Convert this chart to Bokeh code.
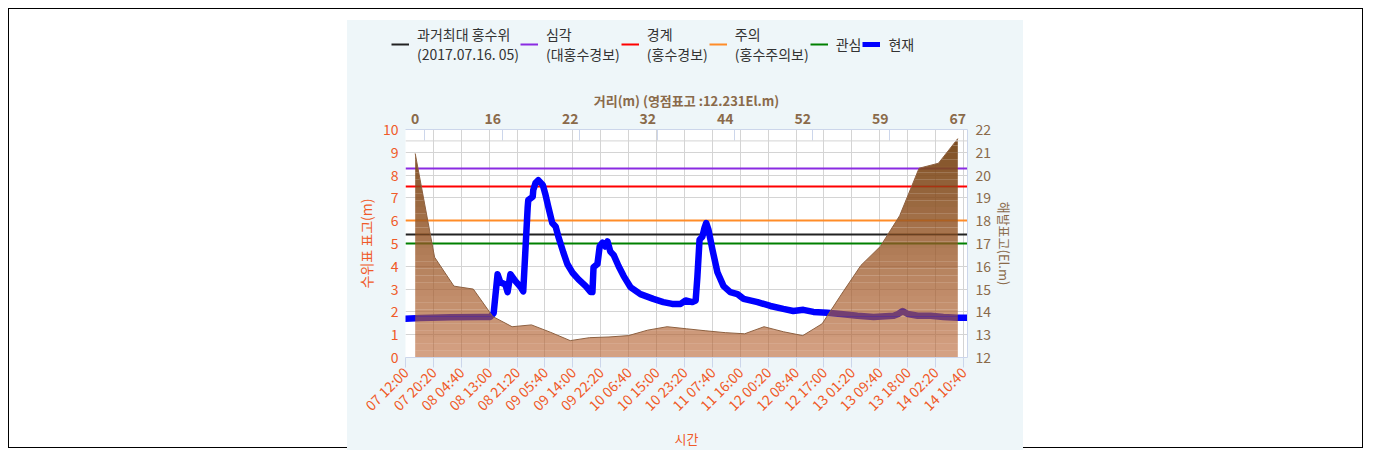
import math
import numpy as np
import pandas as pd
from bokeh.plotting import figure
from bokeh.models import (Range1d, LinearAxis, FixedTicker, DatetimeTickFormatter,
                          Legend, LegendItem, Span, Spacer)
from bokeh.layouts import row, column
from bokeh.embed import file_html
from bokeh.resources import INLINE

# ---------------- data ----------------
YEAR_MONTH = "2023-07-"

# water level (현재), left axis, metres
level_times = [
    "07 12:00", "07 16:30", "08 01:30", "08 10:20", "08 13:20", "08 14:20", "08 15:30",
    "08 16:20", "08 17:50", "08 18:30", "08 19:20", "08 20:50", "08 22:20", "08 23:10",
    "09 00:30", "09 00:40", "09 02:00", "09 02:10", "09 02:50", "09 03:40", "09 05:00",
    "09 05:50", "09 06:40", "09 07:50", "09 08:50", "09 09:40", "09 11:10", "09 12:20",
    "09 13:50", "09 15:40", "09 17:50", "09 19:20", "09 19:50", "09 20:10", "09 21:20",
    "09 22:00", "09 22:50", "09 23:40", "10 00:20", "10 01:10", "10 02:10", "10 03:40",
    "10 05:10", "10 07:10", "10 10:10", "10 14:00", "10 17:00", "10 19:40", "10 22:10",
    "10 23:40", "11 01:40", "11 02:40", "11 03:10", "11 03:50", "11 04:40", "11 05:20",
    "11 05:50", "11 06:30", "11 07:40", "11 09:10", "11 11:00", "11 13:00", "11 15:10",
    "11 17:00", "11 21:10", "12 01:00", "12 04:50", "12 07:50", "12 10:50", "12 13:50",
    "12 18:00", "12 22:00", "13 03:00", "13 07:50", "13 13:50", "13 15:10", "13 16:30",
    "13 18:00", "13 21:00", "14 00:50", "14 04:40", "14 08:50", "14 11:50",
]
level_values = [
    1.70, 1.73, 1.76, 1.78, 1.78, 1.95, 3.65,
    3.30, 3.20, 2.87, 3.65, 3.35, 3.10, 2.90,
    6.60, 6.90, 7.05, 7.35, 7.65, 7.78, 7.57,
    7.13, 6.60, 5.90, 5.75, 5.30, 4.60, 4.10,
    3.73, 3.43, 3.13, 2.87, 2.87, 3.96, 4.10,
    4.87, 5.04, 4.87, 5.09, 4.65, 4.50, 4.00,
    3.57, 3.09, 2.78, 2.57, 2.43, 2.35, 2.35,
    2.50, 2.43, 2.50, 3.50, 5.17, 5.30, 5.70,
    5.90, 5.60, 4.74, 3.74, 3.13, 2.87, 2.78,
    2.57, 2.43, 2.26, 2.13, 2.04, 2.09, 2.00,
    1.96, 1.91, 1.83, 1.78, 1.83, 1.91, 2.04,
    1.91, 1.83, 1.83, 1.78, 1.74, 1.74,
]

# time axis tick labels
time_tick_labels = [
    "07 12:00", "07 20:20", "08 04:40", "08 13:00", "08 21:20", "09 05:40", "09 14:00",
    "09 22:20", "10 06:40", "10 15:00", "10 23:20", "11 07:40", "11 16:00", "12 00:20",
    "12 08:40", "12 17:00", "13 01:20", "13 09:40", "13 18:00", "14 02:20", "14 10:40",
]
time_axis_end = "14 11:52"

# ground profile (해발표고, El.m) at evenly spaced survey points
profile_elev = [
    20.95, 16.40, 15.13, 15.00, 13.80, 13.35, 13.43, 13.10, 12.74, 12.87,
    12.90, 12.96, 13.20, 13.35, 13.26, 13.17, 13.09, 13.04, 13.35, 13.13,
    12.96, 13.48, 14.78, 16.04, 16.87, 18.22, 20.30, 20.52, 21.60,
]
dist_tick_labels = ["0", "16", "22", "32", "44", "52", "59", "67"]
dist_tick_every = 4

# threshold lines (left axis, m)
threshold_names = ["과거최대 홍수위\n(2017.07.16. 05)", "심각\n(대홍수경보)", "경계\n(홍수경보)",
                   "주의\n(홍수주의보)", "관심"]
threshold_values = [5.4, 8.3, 7.5, 6.0, 5.0]
threshold_colors = ["#222222", "#8a2be2", "#ff0000", "#ff8c28", "#008000"]
current_name = "현재"

# ---------------- styling ----------------
FONT = "Noto Sans CJK KR"
ORANGE = "#f05a28"
BROWN = "#8a6a4a"
PANEL = "#eef6f9"
AXIS_LINE = "#ccd6eb"
CUR_COLOR = "#0000ff"
CUR_WIDTH = 6.5
THR_WIDTH = 2

def ts(s):
    return pd.Timestamp(YEAR_MONTH + s)

t_level = pd.to_datetime([YEAR_MONTH + s for s in level_times])
tick_ms = [ts(s).value // 10**6 for s in time_tick_labels]

LEG_H = 66
p = figure(width=676, height=430 - LEG_H, x_axis_type="datetime",
           x_range=Range1d(ts(time_tick_labels[0]), ts(time_axis_end)),
           y_range=Range1d(0, 10),
           output_backend="svg", toolbar_location=None,
           min_border_left=58, min_border_right=56, min_border_top=109 - LEG_H,
           min_border_bottom=91,
           background_fill_color="white", border_fill_color=PANEL,
           outline_line_color=None)

n_pts = len(profile_elev)
p.extra_x_ranges = {"dist": Range1d(-0.5, n_pts - 0.5)}
p.extra_y_ranges = {"elev": Range1d(12, 22)}

# bottom (time) axis
xa = p.xaxis[0]
xa.ticker = FixedTicker(ticks=tick_ms)
fmt = "%d %H:%M"
xa.formatter = DatetimeTickFormatter(microseconds=fmt, milliseconds=fmt, seconds=fmt, minsec=fmt,
                                     minutes=fmt, hourmin=fmt, hours=fmt, days=fmt,
                                     months=fmt, years=fmt)
xa.major_label_orientation = math.pi / 4
xa.major_label_text_color = ORANGE
xa.major_label_text_font = FONT
xa.major_label_text_font_size = "14px"
xa.major_label_standoff = 2
xa.axis_line_color = AXIS_LINE
xa.major_tick_line_color = AXIS_LINE
xa.major_tick_out = 10
xa.major_tick_in = 0
xa.minor_tick_line_color = None
xa.axis_label = "시간"
xa.axis_label_text_color = ORANGE
xa.axis_label_text_font = FONT
xa.axis_label_text_font_size = "13px"
xa.axis_label_text_font_style = "normal"
xa.axis_label_standoff = 4

# left axis
ya = p.yaxis[0]
ya.ticker = FixedTicker(ticks=list(range(0, 11)))
ya.major_label_text_color = ORANGE
ya.major_label_text_font = FONT
ya.major_label_text_font_size = "14px"
ya.major_label_standoff = 1
ya.axis_line_color = None
ya.major_tick_line_color = None
ya.minor_tick_line_color = None
ya.axis_label = "수위표 표고(m)"
ya.axis_label_text_color = ORANGE
ya.axis_label_text_font = FONT
ya.axis_label_text_font_size = "14px"
ya.axis_label_text_font_style = "normal"
ya.axis_label_standoff = 4

# right axis
ra = LinearAxis(y_range_name="elev", ticker=FixedTicker(ticks=list(range(12, 23))))
ra.major_label_text_color = BROWN
ra.major_label_text_font = FONT
ra.major_label_text_font_size = "14px"
ra.major_label_standoff = 2
ra.axis_line_color = AXIS_LINE
ra.major_tick_line_color = None
ra.minor_tick_line_color = None
ra.axis_label = "해발표고(El.m)"
ra.axis_label_text_color = BROWN
ra.axis_label_text_font = FONT
ra.axis_label_text_font_size = "13px"
ra.axis_label_text_font_style = "normal"
ra.axis_label_standoff = 1
p.add_layout(ra, "right")

# top axis (distance)
dist_idx = list(range(0, n_pts, dist_tick_every))
dist_minor = [i + 0.5 for i in dist_idx[:-1]]
ta = LinearAxis(x_range_name="dist", ticker=FixedTicker(ticks=dist_idx, minor_ticks=dist_minor))
ta.major_label_overrides = {i: lab for i, lab in zip(dist_idx, dist_tick_labels)}
ta.major_label_text_color = BROWN
ta.major_label_text_font = FONT
ta.major_label_text_font_size = "14px"
ta.major_label_text_font_style = "bold"
ta.major_label_standoff = 0
ta.axis_line_color = AXIS_LINE
ta.major_tick_line_color = None
ta.minor_tick_line_color = AXIS_LINE
ta.minor_tick_in = 11
ta.minor_tick_out = 0
ta.axis_label = "거리(m) (영점표고 :12.231El.m)"
ta.axis_label_text_color = BROWN
ta.axis_label_text_font = FONT
ta.axis_label_text_font_size = "13px"
ta.axis_label_text_font_style = "bold"
ta.axis_label_standoff = 0
p.add_layout(ta, "above")

# grids
p.xgrid.grid_line_color = "#d4d4d4"
p.ygrid.grid_line_color = "#d4d4d4"
p.add_layout(Span(location=9.5, dimension="width", line_color="#d4d4d4", line_width=1))

# threshold lines
for v, c in zip(threshold_values, threshold_colors):
    p.hspan(y=[v], line_color=c, line_width=THR_WIDTH)

# current water level
p.line(t_level, level_values, line_color=CUR_COLOR, line_width=CUR_WIDTH,
       line_join="round", line_cap="round")

# ground profile with vertical gradient (bands)
def insert_crossings(x, y, levels):
    xs, ys = [x[0]], [y[0]]
    for i in range(len(x) - 1):
        x0, y0, x1, y1 = x[i], y[i], x[i + 1], y[i + 1]
        cross = []
        for L in levels:
            if (y0 - L) * (y1 - L) < 0:
                t = (L - y0) / (y1 - y0)
                cross.append((t, L))
        for t, L in sorted(cross):
            xs.append(x0 + t * (x1 - x0))
            ys.append(L)
        xs.append(x1)
        ys.append(y1)
    return np.array(xs), np.array(ys)

base = 12.0
top = max(profile_elev)
n_bands = 32
levels = np.linspace(base, top, n_bands + 1)
px, py = insert_crossings(np.arange(n_pts, dtype=float), np.array(profile_elev), levels[1:-1])
c_bot, a_bot = np.array([185, 100, 50]), 0.6
c_top, a_top = np.array([116, 68, 22]), 0.95
for k in range(n_bands):
    lo, hi = levels[k], levels[k + 1]
    t = (0.5 * (lo + hi) - base) / (top - base)
    c = c_bot + t * (c_top - c_bot)
    a = a_bot + t * (a_top - a_bot)
    p.varea(x=px, y1=np.full_like(px, lo), y2=np.clip(py, lo, hi),
            x_range_name="dist", y_range_name="elev",
            fill_color="#%02x%02x%02x" % tuple(int(round(v)) for v in c), fill_alpha=a)
p.line(np.arange(n_pts), profile_elev, x_range_name="dist", y_range_name="elev",
       line_color="#8d6040", line_width=1)

# ---------------- legend strip (separate figure on same panel) ----------------
pl = figure(width=676, height=LEG_H, x_range=Range1d(0, 1), y_range=Range1d(0, 1),
            output_backend="svg", toolbar_location=None,
            x_axis_location=None, y_axis_location=None,
            min_border_left=44, min_border_top=4, min_border_right=0,
            min_border_bottom=0,
            background_fill_color=PANEL, border_fill_color=PANEL, outline_line_color=None)
if "frame_align" in pl.properties():
    pl.frame_align = False
pl.grid.visible = False
leg_renderers = []
for c in threshold_colors:
    leg_renderers.append(pl.line(x=[np.nan], y=[np.nan], line_color=c, line_width=THR_WIDTH))
leg_renderers.append(pl.line(x=[np.nan], y=[np.nan], line_color=CUR_COLOR, line_width=5))
items = [LegendItem(label=n, renderers=[r])
         for n, r in zip(threshold_names + [current_name], leg_renderers)]
legend = Legend(items=items, orientation="horizontal", location="top_left",
                padding=0, margin=0, spacing=1, glyph_width=18, glyph_height=18,
                label_standoff=8, border_line_color=None, background_fill_alpha=0,
                label_text_font=FONT, label_text_font_size="14px",
                label_text_color="#333333", label_text_line_height=1.36)
pl.add_layout(legend)

panel = column(pl, p, spacing=0, styles={"background-color": PANEL})
panel.margin = (11, 0, 0, 0)
layout = row(Spacer(width=338, height=10), panel, width=1355, height=440,
             styles={"border": "1px solid black"})
layout.margin = (8, 0, 0, 8)

open("out.html", "w").write(file_html(layout, INLINE))
